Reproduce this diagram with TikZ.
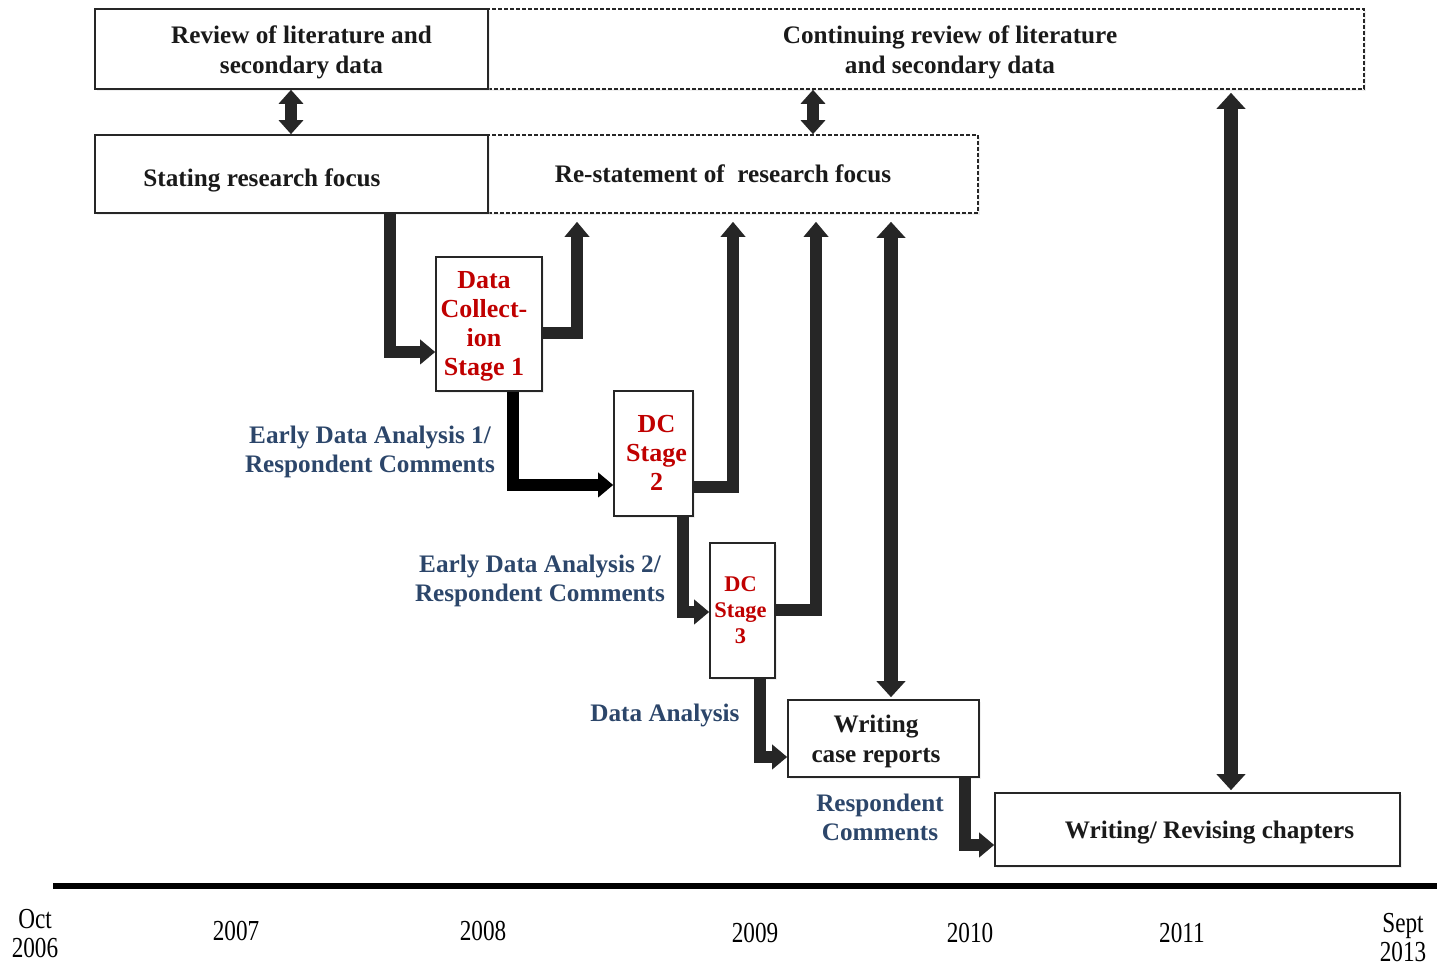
\documentclass[tikz,border=0pt]{standalone}
\usepackage{fontspec}
\setmainfont{Liberation Serif}
\usetikzlibrary{arrows.meta,shadows}
\definecolor{arrowgray}{HTML}{262626}
\definecolor{dcred}{HTML}{C00000}
\definecolor{lblblue}{RGB}{44,70,106}
\definecolor{boxtext}{HTML}{1A1A1A}
\begin{document}
\begin{tikzpicture}[x=0.5pt,y=-0.5pt,
  boxtxt/.style={inner sep=0pt, align=center, text=boxtext, font=\fontsize{12.6}{15}\selectfont\bfseries},
  dctxt/.style={boxtxt, text=dcred, font=\fontsize{13}{14.5}\selectfont\bfseries},
  boxbase/.style={draw=black!85, line width=0.8pt, fill=white, inner sep=0pt,
     drop shadow={shadow xshift=1.2pt, shadow yshift=-1.2pt, fill=black!12}},
  solidbox/.style={boxbase},
  dashbox/.style={boxbase, dash pattern=on 2pt off 1pt},
  lbl/.style={align=center, text=lblblue, font=\fontsize{12.6}{14.5}\selectfont\bfseries, inner sep=0pt},
  yr/.style={align=center, inner sep=0pt, font=\fontsize{14.5}{14.5}\selectfont},
  elb/.style={draw=arrowgray, line width=6pt, line join=miter,
     -{Triangle[width=12pt,length=7.5pt]}},
  elbk/.style={elb, draw=black},
  dbl/.style={draw=arrowgray, line width=6pt, {Triangle[width=12pt,length=7pt]}-{Triangle[width=12pt,length=7pt]}},
  dbllong/.style={draw=arrowgray, line width=7pt, {Triangle[width=14pt,length=8pt]}-{Triangle[width=14pt,length=8pt]}}
]
\useasboundingbox (0,0) rectangle (1437,967);

% top boxes
\node[dashbox, minimum width=438pt, minimum height=40pt,
  label={[boxtxt, xshift=12pt, yshift=-1.5pt]center:{Continuing review of literature\\and secondary data}}]
  (B) at (926,49) {};
\node[solidbox, minimum width=196.5pt, minimum height=40pt,
  label={[boxtxt, xshift=5pt, yshift=-1.5pt]center:{Review of literature and\\secondary data}}]
  (A) at (291.5,49) {};

\node[dashbox, minimum width=245pt, minimum height=39pt,
  label={[boxtxt, xshift=-5pt]center:{Re-statement of \ research focus}}]
  (D) at (733,174) {};
\node[solidbox, minimum width=196.5pt, minimum height=39pt,
  label={[boxtxt, xshift=-14.75pt, yshift=-3pt]center:{Stating research focus}}]
  (C) at (291.5,174) {};

% data collection boxes
\node[solidbox, minimum width=53pt, minimum height=67pt,
  label={[dctxt, xshift=-2.5pt, yshift=-1.2pt]center:{Data\\Collect-\\ion\\Stage 1}}]
  (DC1) at (489,324) {};
\node[solidbox, minimum width=39.5pt, minimum height=62.5pt,
  label={[dctxt, xshift=1.5pt, yshift=0.5pt]center:{DC\\Stage\\2}}]
  (DC2) at (653.5,453.5) {};
\node[solidbox, minimum width=32.5pt, minimum height=67.5pt,
  label={[dctxt, font=\fontsize{11.2}{13}\selectfont\bfseries, xshift=-1pt]center:{DC\\Stage\\3}}]
  (DC3) at (742.5,610.5) {};
\node[solidbox, minimum width=95.5pt, minimum height=38.5pt,
  label={[boxtxt, xshift=-3.75pt, yshift=-1.5pt]center:{Writing\\case reports}}]
  (WCR) at (883.5,738.5) {};
\node[solidbox, minimum width=202.5pt, minimum height=36.5pt,
  label={[boxtxt, xshift=6pt, yshift=-1.5pt]center:{Writing/ Revising chapters}}]
  (CH) at (1197.5,829.5) {};

% labels
\node[lbl] (L1) at (370,452) {Early Data Analysis 1/\\Respondent Comments};
\node[lbl] (L2) at (540,581) {Early Data Analysis 2/\\Respondent Comments};
\node[lbl] (L3) at (665,715) {Data Analysis};
\node[lbl] (L4) at (880,817) {Respondent\\Comments};

% double arrows
\draw[dbl] (291,0 |- A.south) -- (291,0 |- C.north);
\draw[dbl] (813,0 |- B.south) -- (813,0 |- D.north);
\draw[dbllong, shorten <=1.5pt, shorten >=1pt] (1231,0 |- B.south) -- (1231,0 |- CH.north);
\draw[dbllong, shorten <=4pt, shorten >=1pt] (891,0 |- D.south) -- (891,0 |- WCR.north);

% elbow arrows
\draw[elb] (390,0 |- C.south) |- (DC1.west |- 0,352);
\draw[elb, shorten >=4pt] (DC1.east |- 0,333) -| (577,0 |- D.south);
\draw[elbk] (513,0 |- DC1.south) |- (DC2.west |- 0,485);
\draw[elb, shorten >=4pt] (DC2.east |- 0,487) -| (733,0 |- D.south);
\draw[elb] (683,0 |- DC2.south) |- (DC3.west |- 0,612);
\draw[elb, shorten >=4pt] (DC3.east |- 0,610) -| (816,0 |- D.south);
\draw[elb] (760,0 |- DC3.south) |- (WCR.west |- 0,757);
\draw[elb] (965,0 |- WCR.south) |- (CH.west |- 0,845);

% timeline
\draw[line width=3pt, black] (53,886) -- (1437,886);
\node[yr] (y06) at (35,934) {\scalebox{0.8}[1]{Oct}\\\scalebox{0.8}[1]{2006}};
\node[yr] (y07) at (236,931) {\scalebox{0.8}[1]{2007}};
\node[yr] (y08) at (483,931) {\scalebox{0.8}[1]{2008}};
\node[yr] (y09) at (755,933) {\scalebox{0.8}[1]{2009}};
\node[yr] (y10) at (970,933) {\scalebox{0.8}[1]{2010}};
\node[yr] (y11) at (1182,933) {\scalebox{0.8}[1]{2011}};
\node[yr] (y13) at (1403,938) {\scalebox{0.8}[1]{Sept}\\\scalebox{0.8}[1]{2013}};
\end{tikzpicture}
\end{document}
